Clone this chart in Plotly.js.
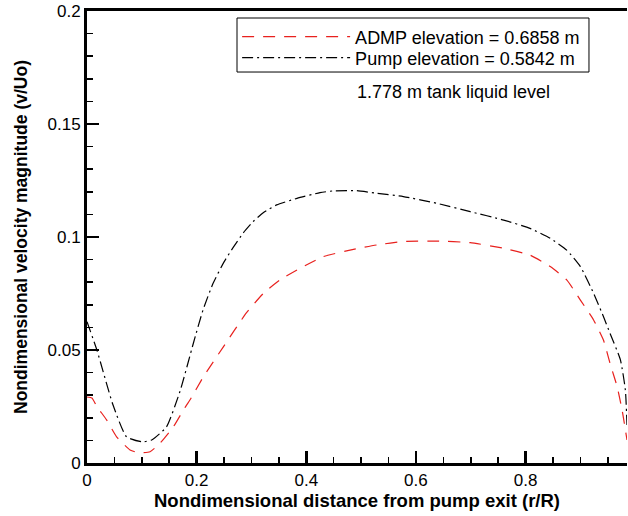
<!DOCTYPE html>
<html>
<head>
<meta charset="utf-8">
<script src="https://cdn.plot.ly/plotly-3.0.1.min.js"></script>
<style>html,body{margin:0;padding:0;background:#fff;}#chart{width:628px;height:516px;}</style>
</head>
<body>
<div id="chart"></div>
<script>
// Pump elevation = 0.5842 m (black dash-dot)
const pumpX = [0.000, 0.018, 0.047, 0.072, 0.100, 0.118, 0.145, 0.170, 0.194, 0.212, 0.230, 0.250, 0.267, 0.285, 0.303, 0.322, 0.346, 0.383, 0.425, 0.449, 0.492, 0.529, 0.577, 0.638, 0.699, 0.760, 0.808, 0.845, 0.875, 0.900, 0.924, 0.942, 0.954, 0.973, 0.982, 0.985];
const pumpY = [0.0625, 0.050, 0.026, 0.0116, 0.0094, 0.0102, 0.016, 0.032, 0.053, 0.068, 0.0795, 0.089, 0.0955, 0.1018, 0.1068, 0.1108, 0.1142, 0.1171, 0.1196, 0.1204, 0.1205, 0.1193, 0.1179, 0.1149, 0.1112, 0.1075, 0.1038, 0.0994, 0.0942, 0.0869, 0.0751, 0.0648, 0.0574, 0.0456, 0.0323, 0.0168];
// ADMP elevation = 0.6858 m (red dashed)
const admpX = [0.000, 0.009, 0.018, 0.036, 0.054, 0.0785, 0.0936, 0.115, 0.133, 0.1575, 0.176, 0.188, 0.212, 0.249, 0.291, 0.322, 0.352, 0.389, 0.431, 0.486, 0.529, 0.577, 0.638, 0.699, 0.760, 0.808, 0.845, 0.875, 0.900, 0.924, 0.942, 0.954, 0.967, 0.976, 0.985];
const admpY = [0.0292, 0.0288, 0.025, 0.019, 0.0116, 0.0058, 0.0046, 0.005, 0.0087, 0.016, 0.0235, 0.028, 0.038, 0.0515, 0.0665, 0.0751, 0.081, 0.0862, 0.0913, 0.0945, 0.0965, 0.098, 0.0982, 0.0975, 0.095, 0.092, 0.0869, 0.081, 0.0721, 0.0633, 0.0544, 0.0441, 0.0338, 0.0235, 0.0102];
const seriesNames = ["ADMP elevation = 0.6858 m", "Pump elevation = 0.5842 m"];
const noteText = "1.778 m tank liquid level";
const xTitle = "Nondimensional distance from pump exit (r/R)";
const yTitle = "Nondimensional velocity magnitude (v/Uo)";

const FONT = "Liberation Sans, Arial, sans-serif";
const traces = [
  {x: admpX, y: admpY, name: seriesNames[0], legend: "legend", mode: "lines", line: {color: "#e8211e", width: 1.2, dash: "12px,9px", shape: "spline", smoothing: 0.5}},
  {x: pumpX, y: pumpY, name: seriesNames[1], legend: "legend2", mode: "lines", line: {color: "#000000", width: 1.2, dash: "11px,4px,2px,4px", shape: "spline", smoothing: 0.5}}
];
const legendBase = {xanchor: "left", yanchor: "middle", borderwidth: 0, bgcolor: "rgba(0,0,0,0)",
                    font: {family: FONT, size: 18}, itemwidth: 108};
const layout = {
  width: 628, height: 516,
  margin: {l: 87, r: 1, t: 11, b: 53},
  paper_bgcolor: "#ffffff", plot_bgcolor: "#ffffff",
  font: {family: FONT, size: 17, color: "#000"},
  showlegend: true,
  legend: Object.assign({}, legendBase, {x: 0.278, y: 0.9425}),
  legend2: Object.assign({}, legendBase, {x: 0.278, y: 0.896}),
  shapes: [{type: "rect", xref: "paper", yref: "paper", x0: 0.2778, x1: 0.9296, y0: 0.865, y1: 0.9845,
            line: {color: "#000", width: 1}, fillcolor: "rgba(0,0,0,0)", layer: "above"}],
  xaxis: {range: [0, 0.985], dtick: 0.2, tick0: 0, ticks: "inside", ticklen: 12, tickwidth: 2.5, tickcolor: "#000",
          showline: true, linewidth: 3, linecolor: "#000", mirror: true, showgrid: false, zeroline: false,
          tickfont: {family: FONT, size: 17},
          minor: {dtick: 0.05, ticks: "inside", ticklen: 6, tickwidth: 1.5, tickcolor: "#000", showgrid: false},
          title: {text: "<b>" + xTitle + "</b>", font: {family: FONT, size: 18.5}, standoff: 5}},
  yaxis: {range: [0, 0.2], dtick: 0.05, tick0: 0, ticks: "inside", ticklen: 12, tickwidth: 2.5, tickcolor: "#000",
          showline: true, linewidth: 3, linecolor: "#000", mirror: false, showgrid: false, zeroline: false,
          tickfont: {family: FONT, size: 17},
          minor: {dtick: 0.01, ticks: "inside", ticklen: 6, tickwidth: 1.5, tickcolor: "#000", showgrid: false},
          title: {text: "<b>" + yTitle + "</b>", font: {family: FONT, size: 17.5}, standoff: 16}},
  annotations: [{text: noteText, xref: "paper", yref: "paper", x: 0.678, y: 0.821, xanchor: "center", yanchor: "middle",
                 showarrow: false, font: {family: FONT, size: 18}}]
};
Plotly.newPlot("chart", traces, layout, {displayModeBar: false, staticPlot: true});
</script>
</body>
</html>
